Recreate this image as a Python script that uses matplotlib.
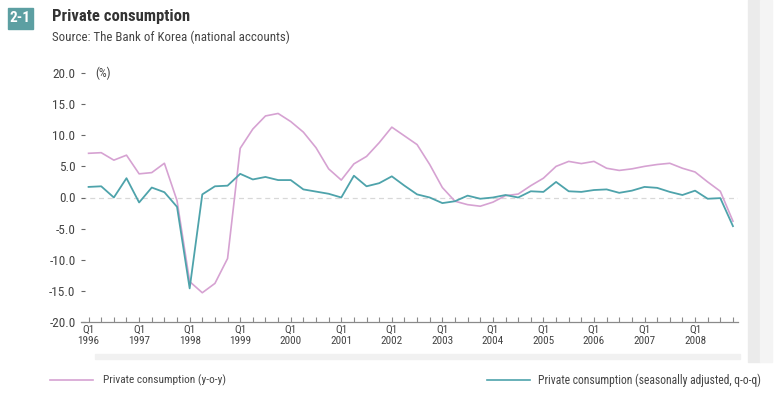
import matplotlib
matplotlib.use("Agg")
import matplotlib.pyplot as plt
from matplotlib.patches import Rectangle
from matplotlib.lines import Line2D
from matplotlib import font_manager
import numpy as np

####### data (quarterly, Q1 1996 - Q4 2008)

years = list(range(1996, 2009))
yoy = [7.1, 7.2, 6.0, 6.8, 3.8, 4.0, 5.5, -0.5,
       -13.5, -15.3, -13.8, -9.8, 7.9, 11.0, 13.1, 13.5,
       12.2, 10.5, 8.0, 4.6, 2.8, 5.4, 6.6, 8.8,
       11.3, 9.9, 8.5, 5.3, 1.6, -0.6, -1.15, -1.4,
       -0.75, 0.3, 0.55, 1.9, 3.1, 5.0, 5.8, 5.45,
       5.8, 4.7, 4.35, 4.6, 5.0, 5.3, 5.5, 4.7,
       4.1, 2.5, 1.0, -3.8]
qoq = [1.7, 1.8, 0.0, 3.1, -0.8, 1.6, 0.85, -1.5,
       -14.6, 0.5, 1.8, 1.9, 3.8, 2.9, 3.3, 2.8,
       2.8, 1.3, 0.95, 0.6, 0.0, 3.5, 1.8, 2.3,
       3.4, 1.9, 0.5, 0.0, -0.9, -0.6, 0.3, -0.2,
       0.0, 0.4, 0.0, 1.0, 0.9, 2.5, 1.0, 0.9,
       1.2, 1.3, 0.75, 1.1, 1.7, 1.55, 0.9, 0.4,
       1.1, -0.2, -0.1, -4.6]
yticks = [20, 15, 10, 5, 0, -5, -10, -15, -20]

pink = "#d6a2d2"
teal = "#4ea3ab"

# pick a condensed face if there is one
installed = set(f.name for f in font_manager.fontManager.ttflist)
narrow = "Liberation Sans"
for name in ["Liberation Sans Narrow", "DejaVu Sans Condensed", "Roboto Condensed"]:
    if name in installed:
        narrow = name
        break

W, H = 782, 397
fig = plt.figure(figsize=(W / 100, H / 100), dpi=100)
fig.patch.set_facecolor("white")

def fx(px):
    return px / W

def fy(py):
    return 1 - py / H

# page shadow on the right / faint band below labels
fig.patches.append(Rectangle((fx(748), fy(362)), fx(12), 362 / H, transform=fig.transFigure,
                             color="#ebebeb", zorder=0))
fig.patches.append(Rectangle((fx(760), fy(362)), fx(12), 362 / H, transform=fig.transFigure,
                             color="#f4f4f4", zorder=0))
fig.patches.append(Rectangle((fx(95), fy(359)), fx(645), 5 / H, transform=fig.transFigure,
                             color="#f1f1f1", zorder=0))

ax = fig.add_axes([fx(81), fy(322), fx(738 - 81), (322 - 73) / H])
x = np.arange(len(yoy))
ax.plot(x, yoy, color=pink, lw=1.2, solid_joinstyle="round", zorder=3)
ax.plot(x, qoq, color=teal, lw=1.3, solid_joinstyle="round", zorder=4)
ax.axhline(0, color="#d8d8d8", lw=0.9, ls=(0, (4, 3)), zorder=1)

ax.set_xlim(-0.6, 51.4)
ax.set_ylim(-20, 20)
for s in ["top", "right", "left"]:
    ax.spines[s].set_visible(False)
ax.spines["bottom"].set_color("#8a8a8a")
ax.spines["bottom"].set_linewidth(0.9)

ax.set_yticks(yticks)
ax.set_yticklabels(["%.1f" % v for v in yticks], family=narrow, fontsize=9.5, color="#444444")
ax.tick_params(axis="y", direction="in", length=3, width=0.8, color="#666666", pad=4)
ax.set_xticks(np.arange(0, 52, 4))
ax.set_xticklabels(["Q1\n%d" % y for y in years], family=narrow, fontsize=8,
                   color="#444444", linespacing=1.1)
ax.set_xticks(np.arange(0, 52), minor=True)
ax.tick_params(axis="x", which="both", direction="in", length=3.5, width=0.8,
               color="#8a8a8a", pad=2)
ax.patch.set_alpha(0)

fig.text(fx(95), fy(73), "(%)", family=narrow, fontsize=9, color="#444444", va="center")

# header
fig.patches.append(Rectangle((fx(8), fy(29)), fx(25), 21 / H, transform=fig.transFigure,
                             color="#5c9fa2", zorder=2))
fig.text(fx(20.5), fy(18.5), "2-1", family=narrow, fontsize=11, weight="bold",
         color="white", ha="center", va="center")
fig.text(fx(52), fy(16), "Private consumption", family=narrow, fontsize=12,
         weight="bold", color="#333333", va="center")
fig.text(fx(52), fy(37), "Source: The Bank of Korea (national accounts)", family=narrow,
         fontsize=9.25, color="#444444", va="center")

# legend
fig.lines.append(Line2D([fx(50), fx(93)], [fy(380), fy(380)], transform=fig.transFigure,
                        color=pink, lw=1.2))
fig.text(fx(103), fy(380), "Private consumption (y-o-y)", family=narrow, fontsize=8.2,
         color="#444444", va="center")
fig.lines.append(Line2D([fx(487), fx(530)], [fy(380), fy(380)], transform=fig.transFigure,
                        color=teal, lw=1.2))
fig.text(fx(761), fy(380), "Private consumption (seasonally adjusted, q-o-q)", family=narrow,
         fontsize=8.4, color="#444444", va="center", ha="right")

fig.savefig("out.png", dpi=100)
